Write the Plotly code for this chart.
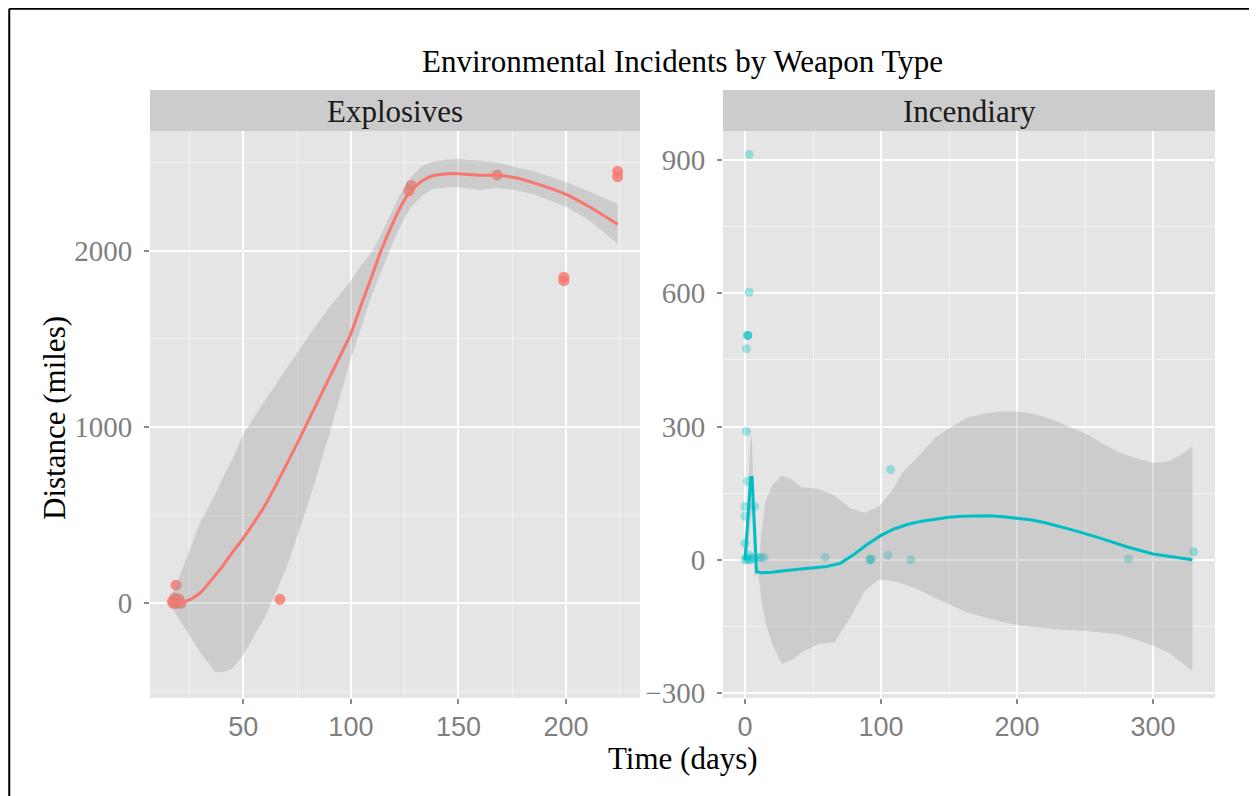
import plotly.graph_objects as go

# the page body has an 8px margin, so the figure is 8px smaller than the window
OFF = 8
W, H = 1257 - OFF, 796 - OFF

# ---------- data ----------
# Explosives: points
expl_days = [17, 17.5, 18, 18.5, 19, 19.5, 20, 21, 18.7, 67, 127, 128, 168, 199, 199, 224, 224]
expl_dist = [10, 0, 30, 15, 0, 5, 25, 0, 103, 23, 2340, 2370, 2430, 1830, 1850, 2420, 2450]

# Explosives: loess fit + CI ribbon
expl_fit_x = [17, 20, 25, 30, 37, 40, 45, 50, 60, 70, 80, 90, 100, 105, 110, 114, 120, 125, 128,
              133, 138, 145, 150, 160, 168, 176, 185, 200, 210, 224]
expl_fit_y = [12, 5, 20, 60, 160, 205, 290, 370, 555, 785, 1030, 1280, 1530, 1700, 1865, 2000,
              2170, 2290, 2340, 2395, 2425, 2437, 2437, 2428, 2428, 2415, 2385, 2320, 2255, 2150]
expl_hi = [50, 140, 300, 460, 620, 700, 820, 960, 1150, 1330, 1510, 1680, 1830, 1920, 2000, 2090,
           2250, 2370, 2420, 2480, 2505, 2518, 2520, 2510, 2500, 2475, 2450, 2390, 2340, 2265]
expl_lo = [-30, -90, -180, -280, -390, -392, -370, -290, -80, 200, 560, 960, 1390, 1580, 1760,
           1880, 2060, 2190, 2250, 2310, 2350, 2360, 2360, 2345, 2355, 2345, 2320, 2250, 2180,
           2040]

# Incendiary: points
inc_days = [3, 3, 2, 2, 2, 1, 1, 1.7, 0, 7, 0, 0, 0, 1, 2, 3, 4, 5, 7, 10, 12, 14, 59, 92, 92, 93,
            105, 107, 122, 282, 330]
inc_dist = [912, 602, 505, 505, 505, 475, 289, 177, 120, 120, 98, 37, 0, 5, 0, 10, 0, 5, 3, 5, 5,
            6, 6, 0, 0, 2, 10, 203, 0, 2, 18]

# Incendiary: loess fit + CI ribbon
inc_fit_x = [0, 2, 4.2, 5.2, 7, 8.5, 12, 20, 30, 40, 50, 60, 70, 80, 90, 100, 110, 120, 130, 140,
             150, 160, 170, 180, 190, 200, 210, 220, 240, 260, 280, 300, 315, 329]
inc_fit_y = [0, 80, 185, 185, 60, -27, -29, -28, -24, -21, -18, -15, -8, 12, 35, 55, 70, 80, 87,
             92, 96, 98, 99, 99, 97, 94, 90, 84, 68, 50, 30, 13, 6, 0]
inc_band_x = [9.5, 12, 15, 20, 27, 35, 41, 54, 66, 78, 88, 98, 108, 115, 128, 140, 152, 164, 177,
              189, 201, 214, 226, 238, 251, 263, 275, 288, 300, 312, 320, 329]
inc_hi = [-28, 60, 130, 168, 190, 180, 164, 160, 144, 115, 106, 119, 155, 193, 235, 275, 300, 320,
          330, 334, 334, 327, 316, 300, 283, 262, 242, 228, 218, 222, 235, 255]
inc_lo = [-28, -88, -140, -190, -234, -225, -210, -189, -185, -127, -70, -45, -47, -53, -68, -86,
          -102, -119, -130, -140, -147, -152, -156, -158, -160, -164, -168, -180, -193, -210, -228,
          -250]
# narrow band around the early spike
spike_x = [0, 2, 4.2, 5.2, 7, 9.5]
spike_hi = [0, 150, 290, 260, 80, -28]
spike_lo = [0, 20, 90, 110, -40, -28]

RED = '#F8766D'
TEAL = '#00BFC4'
BAND = 'rgba(153,153,153,0.32)'


# window pixel -> paper fraction
def px_x(p):
    return (p - OFF) / W


def px_y(p):
    return 1 - (p - OFF) / H


fig = go.Figure()


def add_band(x, lo, hi, xa, ya):
    fig.add_trace(go.Scatter(x=x, y=lo, mode='lines', line=dict(width=0), xaxis=xa, yaxis=ya,
                             showlegend=False, hoverinfo='skip'))
    fig.add_trace(go.Scatter(x=x, y=hi, mode='lines', line=dict(width=0), fill='tonexty',
                             fillcolor=BAND, xaxis=xa, yaxis=ya, showlegend=False,
                             hoverinfo='skip'))


# explosives panel
fig.add_trace(go.Scatter(x=expl_days, y=expl_dist, mode='markers', xaxis='x', yaxis='y',
                         marker=dict(color=RED, size=11, opacity=0.8), showlegend=False))
add_band(expl_fit_x, expl_lo, expl_hi, 'x', 'y')
fig.add_trace(go.Scatter(x=expl_fit_x, y=expl_fit_y, mode='lines', xaxis='x', yaxis='y',
                         line=dict(color=RED, width=3, shape='spline', smoothing=0.6),
                         showlegend=False))

# incendiary panel
fig.add_trace(go.Scatter(x=inc_days, y=inc_dist, mode='markers', xaxis='x2', yaxis='y2',
                         marker=dict(color=TEAL, size=9, opacity=0.35), showlegend=False))
add_band(spike_x, spike_lo, spike_hi, 'x2', 'y2')
add_band(inc_band_x, inc_lo, inc_hi, 'x2', 'y2')
fig.add_trace(go.Scatter(x=inc_fit_x, y=inc_fit_y, mode='lines', xaxis='x2', yaxis='y2',
                         line=dict(color=TEAL, width=3), showlegend=False))

serif = 'Liberation Serif'
sans = 'Liberation Sans'
tick_grey = '#7F7F7F'

xcommon = dict(showline=False, zeroline=False, gridcolor='white', gridwidth=2, ticks='outside',
               ticklen=5, tickwidth=1.5, tickcolor='#8C8C8C', ticklabelstandoff=0,
               tickfont=dict(family=sans, size=27, color=tick_grey), automargin=False)
ycommon = dict(showline=False, zeroline=False, gridcolor='white', gridwidth=2, ticks='outside',
               ticklen=5, tickwidth=1.5, tickcolor='#8C8C8C', ticklabelstandoff=6,
               tickfont=dict(family=serif, size=29, color=tick_grey), automargin=False)

y_dom = [px_y(698), px_y(131)]

fig.update_layout(
    width=W, height=H, autosize=False,
    margin=dict(l=0, r=0, t=0, b=0),
    paper_bgcolor='white', plot_bgcolor='#E5E5E5',
    template='none',
    xaxis=dict(domain=[px_x(150), px_x(640)], range=[6.6, 234.4], anchor='y',
               tickvals=[50, 100, 150, 200],
               minor=dict(dtick=25, tick0=0, showgrid=True, gridcolor='#F2F2F2', gridwidth=1,
                          ticks=''),
               **xcommon),
    yaxis=dict(domain=y_dom, range=[-537, 2679], anchor='x',
               tickvals=[0, 1000, 2000],
               minor=dict(dtick=500, tick0=0, showgrid=True, gridcolor='#F2F2F2', gridwidth=1,
                          ticks=''),
               **ycommon),
    xaxis2=dict(domain=[px_x(723), px_x(1215)], range=[-16.2, 345.6], anchor='y2',
                tickvals=[0, 100, 200, 300],
                minor=dict(dtick=50, tick0=0, showgrid=True, gridcolor='#F2F2F2', gridwidth=1,
                           ticks=''),
                **xcommon),
    yaxis2=dict(domain=y_dom, range=[-311, 965], anchor='x2',
                tickvals=[-300, 0, 300, 600, 900],
                minor=dict(dtick=150, tick0=0, showgrid=True, gridcolor='#F2F2F2', gridwidth=1,
                           ticks=''),
                **ycommon),
)

# facet strips
strip_top, strip_bot = px_y(90), px_y(131)
for x0, x1 in [(150, 640), (723, 1215)]:
    fig.add_shape(type='rect', xref='paper', yref='paper', x0=px_x(x0), x1=px_x(x1),
                  y0=strip_bot, y1=strip_top, fillcolor='#CCCCCC', line=dict(width=0),
                  layer='below')

# frame lines (top and left)
fig.add_shape(type='line', xref='paper', yref='paper', x0=0.001, x1=1, y0=0.999, y1=0.999,
              line=dict(color='black', width=2))
fig.add_shape(type='line', xref='paper', yref='paper', x0=0.001, x1=0.001, y0=0, y1=0.999,
              line=dict(color='black', width=2))

txt = dict(xref='paper', yref='paper', showarrow=False, xanchor='center', yanchor='middle')
fig.add_annotation(text='Environmental Incidents by Weapon Type', x=px_x(682), y=px_y(61),
                   font=dict(family=serif, size=31, color='black'), **txt)
fig.add_annotation(text='Explosives', x=px_x(395), y=px_y(111),
                   font=dict(family=serif, size=31, color='#1A1A1A'), **txt)
fig.add_annotation(text='Incendiary', x=px_x(969), y=px_y(111),
                   font=dict(family=serif, size=31, color='#1A1A1A'), **txt)
fig.add_annotation(text='Time (days)', x=px_x(683), y=px_y(758),
                   font=dict(family=serif, size=31, color='black'), **txt)
fig.add_annotation(text='Distance (miles)', x=px_x(55), y=px_y(418), textangle=-90,
                   font=dict(family=serif, size=31, color='black'), **txt)

fig.write_html("out.html")
